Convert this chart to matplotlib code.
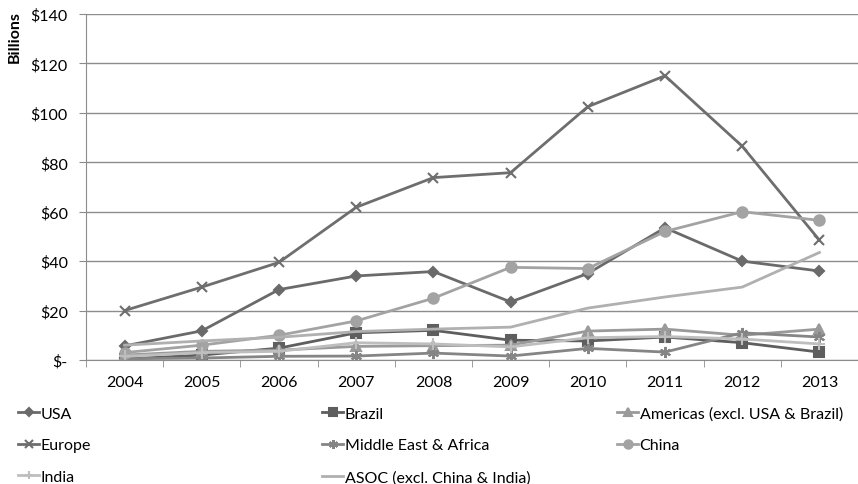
import numpy as np
import matplotlib
matplotlib.use("Agg")
import matplotlib.pyplot as plt

plt.rcParams['font.family'] = ['Lato', 'DejaVu Sans']

years = ['2004', '2005', '2006', '2007', '2008', '2009', '2010', '2011', '2012', '2013']

usa = [5.7, 11.8, 28.5, 34, 35.8, 23.5, 35, 53.5, 40, 36]
brazil = [0.4, 2, 4.8, 11, 12, 8, 7.7, 9.3, 7, 3.2]
americas = [2, 3.5, 4, 5.5, 5.8, 6, 11.7, 12.5, 10, 12.5]
europe = [20, 29.5, 39.5, 61.8, 73.8, 75.8, 102.5, 115, 86.5, 48.5]
mea = [0.5, 0.8, 1.5, 1.6, 2.8, 1.6, 4.7, 3.2, 11, 9.3]
china = [3, 6, 10, 15.8, 25, 37.5, 37, 52, 60, 56.5]
india = [1.5, 3, 3.5, 7, 6.5, 5.3, 9, 9.5, 8.5, 6.5]
asoc = [6, 7.7, 9.2, 11.5, 12.5, 13.3, 21, 25.5, 29.5, 43.5]

yticks = [0, 20, 40, 60, 80, 100, 120, 140]
ylabels = ['$-', '$20', '$40', '$60', '$80', '$100', '$120', '$140']

fs = 11.5
fig = plt.figure(figsize=(8.58, 4.85), dpi=100)
ax = fig.add_axes([86 / 858, 1 - 361 / 485, 772 / 858, 346 / 485])

x = np.arange(len(years))
lw = 2.0
series = [
    ('USA', usa, '#6a6a6a', 'D', 5.5),
    ('Brazil', brazil, '#5e5e5e', 's', 6.5),
    ('Americas (excl. USA & Brazil)', americas, '#9a9a9a', '^', 7),
    ('Europe', europe, '#6e6e6e', 'x', 7),
    ('Middle East & Africa', mea, '#858585', (6, 2, 0), 8),
    ('China', china, '#a3a3a3', 'o', 7.5),
    ('India', india, '#bebebe', '+', 8),
    ('ASOC (excl. China & India)', asoc, '#b0b0b0', None, 0),
]

handles = {}
for name, vals, col, mk, ms in series:
    ln, = ax.plot(x, vals, color=col, lw=lw, marker=mk, markersize=ms,
                  markeredgewidth=1.5, label=name)
    handles[name] = ln

ax.set_xlim(-0.5, 9.5)
ax.set_ylim(0, 140)
ax.set_yticks(yticks)
ax.set_yticklabels(ylabels)
ax.set_xticks(x)
ax.set_xticklabels(years)
ax.set_xticks(np.arange(-0.5, 10, 1), minor=True)
ax.tick_params(axis='x', which='major', length=0, pad=11, labelsize=fs)
ax.tick_params(axis='x', which='minor', length=5, color='#8c8c8c', direction='out')
ax.tick_params(axis='y', length=5, color='#8c8c8c', labelsize=fs, pad=8)

ax.grid(axis='y', color='#8c8c8c', lw=1)
ax.set_axisbelow(True)
for s in ['top', 'right']:
    ax.spines[s].set_visible(False)
for s in ['left', 'bottom']:
    ax.spines[s].set_color('#8c8c8c')

fig.text(15 / 858, 1 - 37 / 485, 'Billions', rotation=90, fontsize=fs,
         fontweight='bold', ha='center', va='center')

cols = [
    (['USA', 'Europe', 'India'], 12),
    (['Brazil', 'Middle East & Africa', 'ASOC (excl. China & India)'], 316),
    (['Americas (excl. USA & Brazil)', 'China'], 611),
]
for names, px in cols:
    leg = fig.legend([handles[n] for n in names], names, loc='upper left',
                     bbox_to_anchor=(px / 858, 1 - 401 / 485), frameon=False,
                     fontsize=fs, handlelength=1.3, handletextpad=0.1,
                     labelspacing=1.1, borderaxespad=0, markerscale=0.8)

fig.savefig('out.png', dpi=100)
